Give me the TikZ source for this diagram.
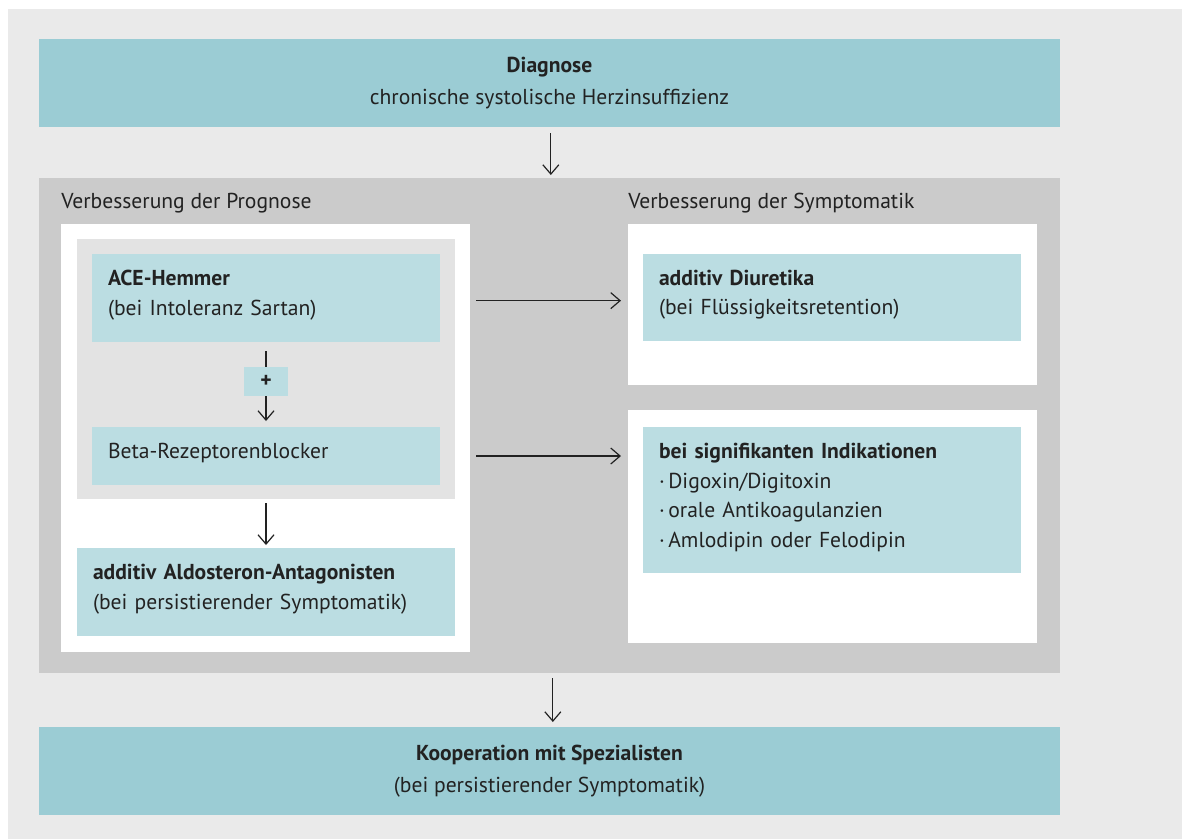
\documentclass[tikz,border=0pt]{standalone}
\usepackage{fontspec}
\setmainfont{PT Sans}
\usetikzlibrary{arrows.meta}

\definecolor{bggray}{RGB}{234,234,234}
\definecolor{midgray}{RGB}{203,203,203}
\definecolor{panelgray}{RGB}{227,227,227}
\definecolor{tealdark}{RGB}{155,204,212}
\definecolor{teallight}{RGB}{187,221,226}
\definecolor{ink}{RGB}{34,34,34}

\begin{document}
\begin{tikzpicture}[x=0.75pt,y=0.75pt,yscale=-1,xscale=1,
		font=\fontsize{16.2}{22.2}\selectfont,text=ink,
		>={Straight Barb[length=7pt,width=12pt]},
		flow/.style={draw=ink,line width=0.9pt},
		panel/.style 2 args={anchor=north west,inner sep=0pt,outer sep=0pt,minimum width=#1,minimum height=#2},
		headbox/.style={panel={765.75pt}{66pt},fill=tealdark,align=center,execute at end node={\endgraf\vspace{4pt}}},
		tealbox/.style 2 args={anchor=north west,outer sep=0pt,inner xsep=12pt,inner ysep=0pt,fill=teallight,
			text width=#1-24pt,minimum height=#2,align=left,execute at end node={\endgraf\vspace{4pt}}}]
		\useasboundingbox (0,0) rectangle (1182,839);

		%Shape: Rectangle [background]
		\node [panel={880.5pt}{622.5pt},fill=bggray] (bg) at (8,9) {};

		%Shape: Rectangle [Diagnose]
		\node [headbox] (diag) at (39,39) {\textbf{Diagnose}\\[1.5pt]chronische systolische Herzinsuffizienz};

		%Shape: Rectangle [middle field]
		\node [panel={765.75pt}{371.25pt},fill=midgray] (mid) at (39,178) {};

		% Text Node
		\node [anchor=west,inner sep=0pt] (progtitle) at (61,203) {Verbesserung der Prognose};
		% Text Node
		\node [anchor=west,inner sep=0pt] (symtitle) at (628,203) {Verbesserung der Symptomatik};

		%Shape: Rectangle [left white]
		\node [panel={306.75pt}{321pt},fill=white] (progpanel) at (61,224) {};
		%Shape: Rectangle [inner gray]
		\node [panel={283.5pt}{195pt},fill=panelgray] (basepanel) at (77,239) {};

		%Shape: Rectangle [ACE]
		\node [tealbox={261pt}{66pt}] (ace) at (92,254) {\textbf{ACE-Hemmer}\\(bei Intoleranz Sartan)};
		%Shape: Rectangle [plus]
		\node [panel={33pt}{21.75pt},fill=teallight] (plus) at (244,367) {\textbf{+}};
		%Shape: Rectangle [Beta]
		\node [tealbox={261pt}{43.5pt}] (beta) at (92,427) {Beta-Rezeptorenblocker};

		%Shape: Rectangle [Aldosteron]
		\node [tealbox={283.5pt}{66pt}] (aldo) at (77,548) {\textbf{additiv Aldosteron-Antagonisten}\\(bei persistierender Symptomatik)};

		%Shape: Rectangle [right white top]
		\node [panel={306.75pt}{120.75pt},fill=white] (diurpanel) at (628,224) {};
		%Shape: Rectangle [Diuretika]
		\node [tealbox={283.5pt}{65.25pt}] (diur) at (643,254) {\textbf{additiv Diuretika}\\(bei Flüssigkeitsretention)};

		%Shape: Rectangle [right white bottom]
		\node [panel={306.75pt}{174.75pt},fill=white] (indpanel) at (628,410) {};
		%Shape: Rectangle [Indikationen]
		\node [tealbox={283.5pt}{109.5pt}] (ind) at (643,427) {\textbf{bei signifikanten Indikationen}\\·\,Digoxin/Digitoxin\\·\,orale Antikoagulanzien\\·\,Amlodipin oder Felodipin};

		%Shape: Rectangle [Kooperation]
		\node [headbox] (koop) at (39,727) {\textbf{Kooperation mit Spezialisten}\\[1.5pt](bei persistierender Symptomatik)};

		%Straight Lines
		\draw [flow,->,shorten <=4.5pt,shorten >=2.25pt] ([xshift=1pt]diag.south) -- ([xshift=1pt]diag.south |- mid.north);
		\draw [flow,shorten <=6.75pt] (ace.south) -- (plus.north);
		\draw [flow,->,shorten >=4.5pt] (plus.south) -- (beta.north);
		\draw [flow,->,shorten <=3pt,shorten >=2.25pt] (basepanel.south) -- (aldo.north);
		\draw [flow,->,shorten <=4.5pt,shorten >=5.25pt] ([yshift=2pt]progpanel.east |- ace.east) -- ([yshift=2pt]diurpanel.west |- ace.east);
		\draw [flow,->,shorten <=4.5pt,shorten >=5.25pt] (progpanel.east |- beta.east) -- (indpanel.west |- beta.east);
		\draw [flow,->,shorten <=4pt,shorten >=3.75pt] ([xshift=2.5pt]mid.south) -- ([xshift=2.5pt]mid.south |- koop.north);

\end{tikzpicture}
\end{document}
